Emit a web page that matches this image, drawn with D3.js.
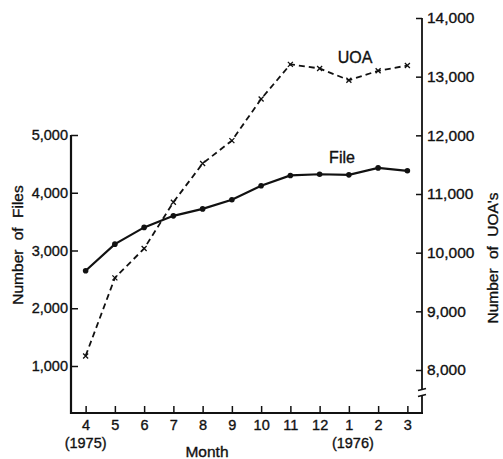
<!DOCTYPE html>
<html>
<head>
<meta charset="utf-8">
<script src="https://cdn.jsdelivr.net/npm/d3@7"></script>
<style>
  body { margin: 0; background: #fff; }
  svg text { font-family: "Liberation Sans", Arial, sans-serif; fill: #111; stroke: #111; stroke-width: 0.35px; }
</style>
</head>
<body>
<div id="chartContainer"></div>
<script>
// months Apr 1975 .. Mar 1976
const months = ["4", "5", "6", "7", "8", "9", "10", "11", "12", "1", "2", "3"];
const fileCounts = [2650, 3110, 3400, 3600, 3720, 3880, 4120, 4300, 4320, 4310, 4430, 4380];
const uoaCounts = [8240, 9570, 10070, 10860, 11520, 11910, 12620, 13210, 13140, 12940, 13100, 13190];
const leftTicks = [1000, 2000, 3000, 4000, 5000];
const rightTicks = [8000, 9000, 10000, 11000, 12000, 13000, 14000];

const width = 503, height = 459;
const axisLeftX = 71, axisRightX = 422, axisBottomY = 413;

const svg = d3.select("#chartContainer")
  .append("svg")
  .attr("width", width)
  .attr("height", height);

const x = d3.scalePoint()
  .domain(months)
  .range([axisLeftX, axisRightX])
  .padding(0.5);

const yLeft = d3.scaleLinear().domain([1000, 5000]).range([366, 135]);
const yRight = d3.scaleLinear().domain([8000, 14000]).range([370, 18]);

// axes
const fmt = d3.format(",");

const gLeft = svg.append("g")
  .attr("transform", `translate(${axisLeftX},0)`)
  .call(d3.axisLeft(yLeft).tickValues(leftTicks).tickFormat(fmt).tickSize(-7).tickPadding(3));
gLeft.select(".domain").remove();

const gRight = svg.append("g")
  .attr("transform", `translate(${axisRightX},0)`)
  .call(d3.axisRight(yRight).tickValues(rightTicks).tickFormat(fmt).tickSize(-6).tickPadding(5));
gRight.select(".domain").remove();

const gBottom = svg.append("g")
  .attr("transform", `translate(0,${axisBottomY})`)
  .call(d3.axisBottom(x).tickSize(-7).tickPadding(7));
gBottom.select(".domain").remove();

svg.selectAll(".tick line").attr("stroke", "#111").attr("stroke-width", 1.5);
svg.selectAll(".tick text").attr("font-size", 14.5).attr("fill", "#111");
gRight.selectAll(".tick text").attr("font-size", 15.5);

// axis lines
svg.append("line")
  .attr("x1", axisLeftX).attr("x2", axisLeftX)
  .attr("y1", yLeft(5000)).attr("y2", axisBottomY + 1)
  .attr("stroke", "#111").attr("stroke-width", 2.2);
svg.append("line")
  .attr("x1", axisLeftX - 1).attr("x2", axisRightX + 1)
  .attr("y1", axisBottomY).attr("y2", axisBottomY)
  .attr("stroke", "#111").attr("stroke-width", 2.2);
// right axis with a break
svg.append("line")
  .attr("x1", axisRightX).attr("x2", axisRightX)
  .attr("y1", yRight(14000)).attr("y2", 390)
  .attr("stroke", "#111").attr("stroke-width", 1.8);
svg.append("line")
  .attr("x1", axisRightX).attr("x2", axisRightX)
  .attr("y1", 395).attr("y2", axisBottomY)
  .attr("stroke", "#111").attr("stroke-width", 1.8);
[389.5, 395.5].forEach(by => {
  svg.append("line")
    .attr("x1", axisRightX - 4).attr("x2", axisRightX + 4)
    .attr("y1", by + 1).attr("y2", by - 1)
    .attr("stroke", "#111").attr("stroke-width", 1.5);
});

// UOA line (dashed, x markers)
const uoaLine = d3.line()
  .x((d, i) => x(months[i]))
  .y(d => yRight(d));

svg.append("path")
  .datum(uoaCounts)
  .attr("d", uoaLine)
  .attr("fill", "none")
  .attr("stroke", "#111")
  .attr("stroke-width", 1.8)
  .attr("stroke-dasharray", "6,4");

svg.selectAll(".uoa-mark")
  .data(uoaCounts)
  .enter().append("path")
  .attr("class", "uoa-mark")
  .attr("transform", (d, i) => `translate(${x(months[i])},${yRight(d)})`)
  .attr("d", "M-2.5,-2.5L2.5,2.5M-2.5,2.5L2.5,-2.5")
  .attr("stroke", "#111")
  .attr("stroke-width", 1.3);

// File line (solid, dots)
const fileLine = d3.line()
  .x((d, i) => x(months[i]))
  .y(d => yLeft(d));

svg.append("path")
  .datum(fileCounts)
  .attr("d", fileLine)
  .attr("fill", "none")
  .attr("stroke", "#111")
  .attr("stroke-width", 2.2);

svg.selectAll(".file-dot")
  .data(fileCounts)
  .enter().append("circle")
  .attr("class", "file-dot")
  .attr("cx", (d, i) => x(months[i]))
  .attr("cy", d => yLeft(d))
  .attr("r", 2.8)
  .attr("fill", "#111");

// series labels
svg.append("text").attr("x", 355).attr("y", 63).attr("text-anchor", "middle")
  .attr("font-size", 16).text("UOA");
svg.append("text").attr("x", 342).attr("y", 163).attr("text-anchor", "middle")
  .attr("font-size", 16).text("File");

// year labels and axis titles
svg.append("text").attr("x", x("4")).attr("y", 448).attr("text-anchor", "middle")
  .attr("font-size", 14.5).text("(1975)");
svg.append("text").attr("x", x("1") + 4).attr("y", 448).attr("text-anchor", "middle")
  .attr("font-size", 14.5).text("(1976)");
svg.append("text").attr("x", 207).attr("y", 457).attr("text-anchor", "middle")
  .attr("font-size", 15.5).text("Month");

svg.append("text")
  .attr("transform", "translate(23,245) rotate(-90)")
  .attr("text-anchor", "middle")
  .attr("font-size", 15.5)
  .attr("word-spacing", 5)
  .text("Number of Files");
svg.append("text")
  .attr("transform", "translate(498,258) rotate(-90)")
  .attr("text-anchor", "middle")
  .attr("font-size", 15.5)
  .attr("word-spacing", 5)
  .text("Number of UOA's");
</script>
</body>
</html>
